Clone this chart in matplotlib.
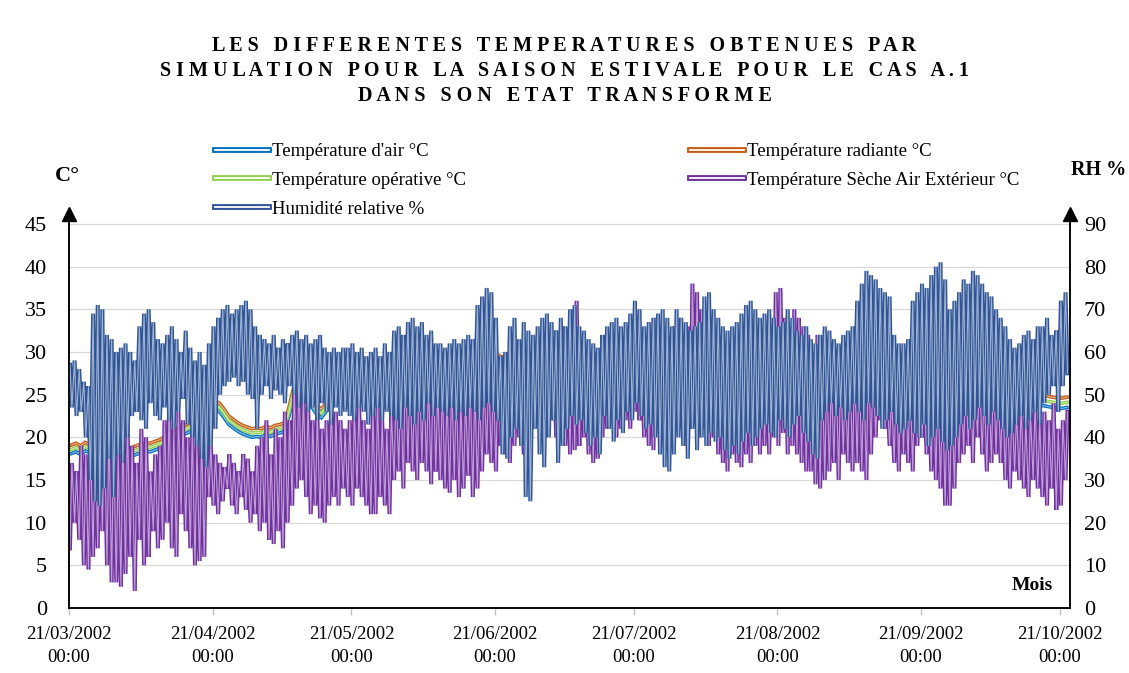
import numpy as np
import matplotlib
matplotlib.use("Agg")
import matplotlib.pyplot as plt
import matplotlib.dates as mdates
import matplotlib.patheffects as pe
from matplotlib.lines import Line2D

plt.rcParams["font.family"] = ["Liberation Serif", "DejaVu Serif"]

# ---------------------------------------------------------------------------
# Daily values, 21/03/2002 -> 22/10/2002 (one value per day, 10 days per row)
# ---------------------------------------------------------------------------
START = "2002-03-21T00:00"

# Relative humidity: night maximum and afternoon minimum (%)
rh_max = [
    57, 58, 56, 53, 52, 69, 71, 70, 64, 63,
    60, 61, 62, 60, 58, 66, 69, 70, 67, 63,
    62, 64, 66, 63, 60, 65, 61, 58, 60, 57,
    62, 66, 68, 70, 71, 69, 70, 71, 72, 70,
    66, 64, 63, 62, 64, 61, 63, 62, 64, 65,
    63, 64, 62, 63, 64, 61, 60, 61, 60, 61,
    61, 62, 60, 61, 59, 60, 61, 59, 62, 60,
    65, 66, 64, 67, 68, 66, 67, 64, 65, 62,
    62, 61, 62, 63, 62, 63, 64, 63, 71, 73,
    75, 74, 68, 59, 60, 66, 68, 63, 67, 65,
    64, 66, 68, 69, 67, 65, 68, 66, 70, 71,
    66, 65, 63, 62, 61, 64, 66, 67, 68, 66,
    67, 69, 72, 70, 66, 67, 68, 69, 70, 68,
    66, 70, 68, 67, 65, 66, 67, 73, 74, 70,
    68, 66, 65, 66, 67, 69, 71, 72, 70, 68,
    69, 70, 68, 66, 67, 70, 68, 65, 64, 66,
    63, 62, 64, 66, 65, 63, 62, 64, 65, 66,
    72, 76, 79, 78, 77, 75, 74, 73, 64, 62,
    62, 63, 72, 74, 76, 75, 78, 80, 81, 77,
    70, 72, 74, 77, 76, 79, 78, 76, 74, 73,
    70, 68, 66, 63, 61, 62, 64, 65, 63, 66,
    66, 68, 64, 65, 72, 74,
]
rh_min = [
    47, 45, 46, 40, 30, 25, 24, 28, 35, 26,
    36, 34, 40, 45, 46, 44, 42, 48, 45, 44,
    47, 44, 42, 46, 49, 43, 40, 38, 35, 33,
    38, 42, 50, 52, 53, 54, 52, 53, 50, 49,
    42, 50, 52, 49, 51, 50, 48, 52, 50, 47,
    48, 46, 47, 44, 48, 46, 43, 47, 45, 46,
    45, 44, 47, 46, 43, 45, 47, 44, 46, 45,
    44, 42, 47, 45, 43, 46, 44, 48, 45, 47,
    46, 45, 47, 44, 46, 45, 47, 46, 44, 47,
    48, 46, 44, 36, 35, 40, 42, 38, 26, 25,
    42, 36, 33, 40, 44, 34, 38, 42, 45, 43,
    44, 41, 38, 40, 36, 45, 42, 39, 44, 41,
    46, 44, 48, 45, 42, 43, 40, 36, 33, 32,
    36, 40, 38, 35, 42, 37, 40, 38, 41, 39,
    40, 37, 35, 38, 36, 39, 41, 38, 40, 42,
    43, 41, 40, 44, 42, 40, 43, 45, 41, 39,
    36, 35, 44, 46, 48, 45, 47, 44, 46, 48,
    46, 44, 48, 47, 45, 42, 44, 46, 43, 41,
    42, 44, 41, 40, 43, 38, 40, 42, 39, 37,
    38, 40, 43, 45, 42, 44, 47, 45, 43, 46,
    44, 42, 40, 41, 43, 45, 42, 44, 46, 43,
    48, 50, 52, 46, 52, 55,
]

# Outdoor dry-bulb temperature: afternoon maximum and early-morning minimum (°C)
text_max = [
    17, 16, 19, 18, 20, 23, 24, 22, 21, 20,
    18, 21, 22, 19, 17, 21, 20, 16, 18, 19,
    22, 24, 21, 23, 22, 20, 21, 19, 20, 22,
    19, 18, 17, 16.5, 18, 17, 16, 18, 17.5, 16,
    19, 20, 22, 18, 21, 20, 23, 22, 26, 27,
    25, 24, 22, 23, 21, 22, 24, 23, 22, 21,
    22, 23, 24, 22, 21, 23, 24, 22, 21, 23,
    26, 27, 29, 28, 27, 30, 28, 27, 29, 26,
    26, 25, 27, 26, 24, 25, 27, 26, 25, 27,
    28, 27, 29, 28, 27, 29, 30, 28, 27, 29,
    30, 31, 32, 29, 30, 31, 33, 32, 35, 36,
    31, 29, 30, 28, 29, 31, 32, 30, 29, 30,
    32, 31, 33, 30, 31, 32, 34, 33, 31, 32,
    33, 34, 32, 33, 38, 37, 35, 34, 33, 32,
    30, 29, 31, 30, 28, 29, 31, 30, 32, 31,
    32, 33, 37, 37.5, 34, 33, 35, 34, 33, 32,
    30, 32, 29, 28, 27, 29, 28, 27, 30, 29,
    29, 28, 30, 29, 27, 28, 26, 25, 28, 29,
    28, 27, 29, 28, 26, 27, 28, 27, 26, 25,
    26, 25, 27, 28, 29, 27, 28, 26, 27, 28,
    27, 26, 25, 24, 23, 24, 22, 23, 24, 22,
    23, 22, 24, 21, 22, 23,
]
text_min = [
    7, 10, 8, 5, 4.5, 6, 7, 9, 5, 3,
    3, 2.5, 4, 6, 2, 8, 5, 6, 9, 7,
    8, 10, 7, 6, 11, 9, 7, 5, 5.5, 6,
    13, 12, 11, 12.5, 14, 12, 11, 13, 11.5, 10,
    11, 9, 10, 8, 7.5, 9, 7, 10, 12, 14,
    15, 13, 11, 12, 10.5, 10, 12, 13, 12, 14,
    13, 12, 14, 13, 12, 11, 11, 13, 12, 11,
    15, 16, 14, 17, 16, 15, 17, 16, 14.5, 16,
    15, 14, 13.5, 15, 13, 14, 15.5, 13, 14, 16,
    18, 17, 16, 19, 18, 17, 19, 20, 18, 19,
    21, 22, 20, 21, 22, 20, 21, 19, 18, 18.5,
    19, 20, 18, 17, 17.5, 20, 21, 22, 20, 21,
    22, 21, 23, 22, 20, 19, 18.5, 21, 22, 20,
    20, 22, 21, 19, 21, 22, 20, 21, 19, 20,
    18, 17, 16, 18, 17, 16.5, 18, 17, 19, 18,
    19, 18, 20, 19, 20.5, 18, 19, 18, 17, 16,
    16, 14.5, 14, 15, 16, 17, 15, 18, 17, 16,
    17, 16, 15, 18, 20, 22, 21, 19, 17, 16,
    18, 17, 16, 19, 20, 18, 16, 15, 14, 12,
    12, 14, 17, 18, 19, 17, 20, 18, 16, 17,
    18, 17, 15, 14, 16, 15, 14, 13, 15, 14,
    13, 12, 14, 11.5, 12, 15,
]

# Indoor temperatures, daily values (°C)
t_air = [
    18.1, 18.3, 18.0, 18.4, 18.2, 18.1, 18.4, 18.5, 18.3, 18.2,
    18.0, 17.7, 17.5, 17.8, 18.0, 18.2, 18.4, 18.3, 18.5, 18.7,
    19.0, 19.3, 19.7, 20.1, 20.3, 20.5, 20.8, 21.1, 21.5, 21.9,
    22.7, 23.3, 23.0, 22.3, 21.5, 21.1, 20.7, 20.4, 20.2, 20.0,
    20.1, 20.0, 20.3, 20.1, 20.4, 20.5, 20.7, 22.5, 24.8, 25.0,
    24.5, 24.0, 23.5, 22.7, 22.3, 23.0, 24.0, 24.5, 24.3, 24.7,
    24.5, 24.8, 24.4, 24.7, 24.5, 24.3, 24.6, 24.8, 25.0, 24.9,
    25.0, 25.2, 25.4, 25.6, 25.9, 26.2, 26.4, 26.2, 26.5, 26.4,
    26.4, 26.6, 26.5, 26.7, 26.8, 26.7, 26.9, 27.0, 27.1, 27.3,
    27.5, 27.8, 28.0, 27.7, 27.9, 28.1, 27.8, 28.0, 28.1, 27.9,
    28.1, 28.2, 28.3, 28.0, 28.2, 28.4, 28.3, 28.2, 28.5, 28.6,
    28.4, 28.2, 28.1, 28.0, 28.2, 28.3, 28.4, 28.3, 28.5, 28.4,
    28.5, 28.4, 28.6, 28.5, 28.3, 28.4, 28.5, 28.6, 28.4, 28.3,
    28.2, 28.4, 28.3, 28.2, 28.6, 28.7, 28.5, 28.4, 28.2, 28.1,
    28.0, 27.9, 28.0, 27.8, 27.7, 27.6, 27.8, 27.9, 28.0, 27.8,
    27.7, 27.6, 27.9, 28.1, 27.8, 27.7, 27.8, 27.6, 27.5, 27.4,
    27.2, 27.1, 27.0, 26.9, 26.8, 26.9, 26.7, 26.6, 26.8, 26.7,
    26.7, 26.6, 26.8, 26.7, 26.5, 26.4, 26.3, 26.2, 26.3, 26.2,
    26.1, 26.2, 26.3, 26.1, 26.0, 25.9, 26.1, 26.0, 25.8, 25.6,
    25.4, 25.3, 25.5, 25.6, 25.4, 25.2, 25.3, 25.1, 25.0, 24.9,
    24.8, 24.7, 24.5, 24.3, 24.2, 24.3, 24.1, 24.0, 23.9, 23.8,
    23.7, 23.6, 23.5, 23.4, 23.4, 23.5,
]
t_radiant = [
    19.1, 19.3, 19.0, 19.4, 19.2, 19.1, 19.4, 19.5, 19.3, 19.2,
    19.0, 18.7, 18.5, 18.8, 19.0, 19.2, 19.4, 19.3, 19.5, 19.7,
    20.0, 20.3, 20.7, 21.1, 21.3, 21.5, 21.8, 22.1, 22.5, 22.9,
    23.7, 24.3, 24.0, 23.3, 22.5, 22.1, 21.7, 21.4, 21.2, 21.0,
    21.1, 21.0, 21.3, 21.1, 21.4, 21.5, 21.7, 23.5, 25.8, 26.0,
    25.5, 25.0, 24.5, 23.7, 23.3, 24.0, 25.0, 25.5, 25.3, 25.7,
    25.5, 25.8, 25.4, 25.7, 25.5, 25.3, 25.6, 25.8, 26.0, 25.9,
    26.2, 26.4, 26.6, 26.8, 27.1, 27.4, 27.6, 27.4, 27.7, 27.6,
    27.6, 27.8, 27.7, 27.9, 28.0, 27.9, 28.1, 28.2, 28.5, 28.7,
    29.2, 29.5, 29.7, 29.4, 29.6, 29.8, 29.5, 29.7, 29.8, 29.6,
    29.8, 29.9, 30.0, 29.7, 29.9, 30.1, 30.0, 29.9, 30.2, 30.3,
    30.1, 29.9, 29.8, 29.7, 29.9, 30.0, 30.1, 30.0, 30.2, 30.1,
    30.2, 30.1, 30.3, 30.2, 30.0, 30.1, 30.2, 30.3, 30.1, 30.0,
    29.9, 30.1, 30.0, 29.9, 30.3, 30.4, 30.2, 30.1, 29.9, 29.8,
    29.7, 29.6, 29.7, 29.5, 29.4, 29.3, 29.5, 29.6, 29.7, 29.5,
    29.4, 29.3, 29.6, 29.8, 29.5, 29.4, 29.5, 29.3, 29.2, 29.1,
    28.9, 28.8, 28.7, 28.6, 28.5, 28.6, 28.4, 28.3, 28.5, 28.4,
    28.3, 28.2, 28.4, 28.3, 28.1, 28.0, 27.9, 27.8, 27.9, 27.8,
    27.7, 27.8, 27.9, 27.7, 27.6, 27.5, 27.7, 27.6, 27.4, 27.2,
    26.6, 26.5, 26.7, 26.8, 26.6, 26.4, 26.5, 26.3, 26.2, 26.1,
    26.0, 25.9, 25.7, 25.5, 25.4, 25.5, 25.3, 25.2, 25.1, 25.0,
    24.9, 24.8, 24.7, 24.6, 24.6, 24.7,
]
t_operative = [
    18.6, 18.8, 18.5, 18.9, 18.7, 18.6, 18.9, 19.0, 18.8, 18.7,
    18.5, 18.2, 18.0, 18.3, 18.5, 18.7, 18.9, 18.8, 19.0, 19.2,
    19.5, 19.8, 20.2, 20.6, 20.8, 21.0, 21.3, 21.6, 22.0, 22.4,
    23.2, 23.8, 23.5, 22.8, 22.0, 21.6, 21.2, 20.9, 20.7, 20.5,
    20.6, 20.5, 20.8, 20.6, 20.9, 21.0, 21.2, 23.0, 25.3, 25.5,
    25.0, 24.5, 24.0, 23.2, 22.8, 23.5, 24.5, 25.0, 24.8, 25.2,
    25.0, 25.3, 24.9, 25.2, 25.0, 24.8, 25.1, 25.3, 25.5, 25.4,
    25.6, 25.8, 26.0, 26.2, 26.5, 26.8, 27.0, 26.8, 27.1, 27.0,
    27.0, 27.2, 27.1, 27.3, 27.4, 27.3, 27.5, 27.6, 27.8, 28.0,
    28.3, 28.6, 28.8, 28.5, 28.7, 28.9, 28.6, 28.8, 28.9, 28.7,
    28.9, 29.0, 29.1, 28.8, 29.0, 29.2, 29.1, 29.0, 29.3, 29.4,
    29.2, 29.0, 28.9, 28.8, 29.0, 29.1, 29.2, 29.1, 29.3, 29.2,
    29.3, 29.2, 29.4, 29.3, 29.1, 29.2, 29.3, 29.4, 29.2, 29.1,
    29.0, 29.2, 29.1, 29.0, 29.4, 29.5, 29.3, 29.2, 29.0, 28.9,
    28.8, 28.7, 28.8, 28.6, 28.5, 28.4, 28.6, 28.7, 28.8, 28.6,
    28.5, 28.4, 28.7, 28.9, 28.6, 28.5, 28.6, 28.4, 28.3, 28.2,
    28.0, 27.9, 27.8, 27.7, 27.6, 27.7, 27.5, 27.4, 27.6, 27.5,
    27.4, 27.3, 27.5, 27.4, 27.2, 27.1, 27.0, 26.9, 27.0, 26.9,
    26.8, 26.9, 27.0, 26.8, 26.7, 26.6, 26.8, 26.7, 26.5, 26.3,
    26.0, 25.9, 26.1, 26.2, 26.0, 25.8, 25.9, 25.7, 25.6, 25.5,
    25.4, 25.3, 25.1, 24.9, 24.8, 24.9, 24.7, 24.6, 24.5, 24.4,
    24.3, 24.2, 24.1, 24.0, 24.0, 24.1,
]

labels = {
    "air": "Température d'air °C",
    "rad": "Température radiante °C",
    "op": "Température opérative °C",
    "ext": "Température Sèche Air Extérieur °C",
    "rh": "Humidité relative %",
}
colors = {
    "air": "#0070C0",
    "rad": "#C55A11",
    "op": "#92D050",
    "ext": "#7030A0",
    "rh": "#2F5597",
}
tick_dates = ["2002-03-21", "2002-04-21", "2002-05-21", "2002-06-21",
              "2002-07-21", "2002-08-21", "2002-09-21", "2002-10-21"]
title_lines = [
    "LES DIFFERENTES TEMPERATURES OBTENUES PAR",
    "SIMULATION POUR LA SAISON ESTIVALE POUR LE CAS A.1",
    "DANS SON ETAT TRANSFORME",
]

series = [rh_max, rh_min, text_max, text_min, t_air, t_radiant, t_operative]
if len({len(s) for s in series}) != 1:
    raise ValueError(f"series lengths differ: {[len(s) for s in series]}")
n_days = len(rh_max)

# ---------------------------------------------------------------------------
# Time axes
# ---------------------------------------------------------------------------
day0 = np.datetime64(START) + np.arange(n_days) * np.timedelta64(1, "D")
t_early = day0 + np.timedelta64(5, "h")
t_late = day0 + np.timedelta64(15, "h")
t_noon = day0 + np.timedelta64(12, "h")
t_pairs = np.column_stack([t_early, t_late]).ravel()

ext_series = np.column_stack([text_min, text_max]).ravel()
rh_series = np.column_stack([rh_max, rh_min]).ravel()

# ---------------------------------------------------------------------------
W, H = 1129, 673
fig = plt.figure(figsize=(W / 100, H / 100), dpi=100)
ax = fig.add_axes([69 / W, 65 / H, (1070 - 69) / W, (455 - 65) / H])
ax2 = ax.twinx()


def double_effect(color, lw, core, core_alpha):
    return [pe.Stroke(linewidth=lw, foreground=color),
            pe.Stroke(linewidth=core, foreground="white", alpha=core_alpha)]


def draw(axis, x, y, key, lw=2.9):
    axis.plot(x, y, color=colors[key], lw=lw, solid_joinstyle="miter",
              path_effects=double_effect(colors[key], lw, 0.8, 0.55))


draw(ax, t_noon, t_air, "air", lw=2.6)
draw(ax, t_noon, t_radiant, "rad", lw=2.6)
draw(ax, t_noon, t_operative, "op", lw=2.6)
draw(ax, t_pairs, ext_series, "ext")
draw(ax2, t_pairs, rh_series, "rh")

# Axis limits and scales
x_end = np.datetime64("2002-10-23T04:00")
ax.set_xlim(np.datetime64(START), x_end)
ax.set_ylim(0, 45.7)
ax2.set_ylim(0, 91.4)

ax.set_yticks(np.arange(0, 46, 5))
ax2.set_yticks(np.arange(0, 91, 10))
ax.yaxis.grid(True, color="#D9D9D9", lw=0.9)
ax.set_axisbelow(True)

ax.set_xticks([np.datetime64(d) for d in tick_dates])
ax.xaxis.set_major_formatter(mdates.DateFormatter("%d/%m/%Y\n%H:%M"))

for a in (ax, ax2):
    a.spines["top"].set_visible(False)
    for s in ("left", "right", "bottom"):
        a.spines[s].set_color("black")
        a.spines[s].set_linewidth(1.1)

ax.tick_params(axis="y", length=0, pad=16, labelsize=16)
ax2.tick_params(axis="y", length=0, pad=10, labelsize=16)
ax.tick_params(axis="x", length=5, color="#BFBFBF", width=0.9, pad=8,
               labelsize=13.5)
for lab in ax.get_xticklabels():
    lab.set_linespacing(1.45)

# Arrow heads at the top of both vertical axes
for xa in (0, 1):
    ax.plot([xa], [1.01], marker="^", color="black", ms=10,
            transform=ax.transAxes, clip_on=False)


# Title, letter-spaced
def spaced(text):
    return "   ".join(" ".join(word) for word in text.split(" "))


for i, line in enumerate(title_lines):
    fig.text(0.5, 1 - (46 + 25 * i) / H, spaced(line), ha="center",
             va="center", fontsize=14.5, fontweight="bold")

fig.text(67 / W, 1 - 176 / H, "C°", ha="center", va="center", fontsize=16,
         fontweight="bold")
fig.text(1126 / W, 1 - 170 / H, "RH %", ha="right", va="center",
         fontsize=14.5, fontweight="bold")
fig.text(1032 / W, 1 - 585 / H, "Mois", ha="center", va="center",
         fontsize=14, fontweight="bold")


# Legends
def proxy(key):
    c = colors[key]
    return Line2D([], [], color=c, lw=4.2,
                  path_effects=double_effect(c, 4.2, 1.3, 1.0))


leg_kw = dict(loc="upper left", frameon=False, fontsize=13.5,
              handlelength=2.9, handletextpad=0.15, labelspacing=0.62,
              borderpad=0, borderaxespad=0)
fig.legend([proxy(k) for k in ("air", "op", "rh")],
           [labels[k] for k in ("air", "op", "rh")],
           bbox_to_anchor=(215 / W, 1 - 143 / H), **leg_kw)
fig.legend([proxy(k) for k in ("rad", "ext")],
           [labels[k] for k in ("rad", "ext")],
           bbox_to_anchor=(690 / W, 1 - 143 / H), **leg_kw)

fig.savefig("out.png", dpi=100)
